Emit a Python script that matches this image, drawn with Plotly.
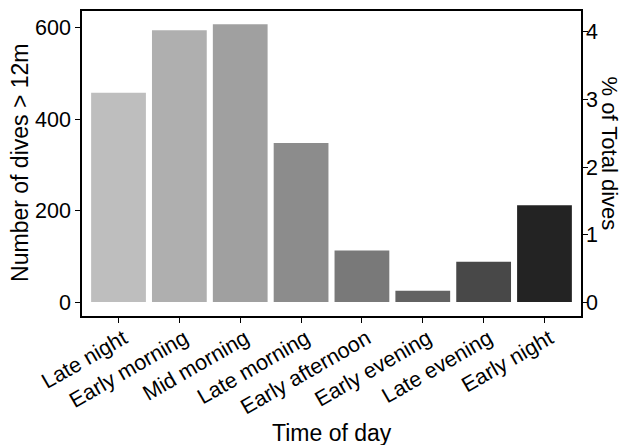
import plotly.graph_objects as go

categories = ["Late night", "Early morning", "Mid morning", "Late morning",
              "Early afternoon", "Early evening", "Late evening", "Early night"]
dives = [458, 595, 608, 348, 113, 25, 88, 212]
colors = ["#BEBEBE", "#AFAFAF", "#A0A0A0", "#8C8C8C",
          "#797979", "#626262", "#484848", "#232323"]
pct_ticks = [0, 1, 2, 3, 4]
counts_per_pct = 147.8  # counts equivalent to 1% of total dives

y_range = [-30.5, 637]
pct_range = [y_range[0] / counts_per_pct, y_range[1] / counts_per_pct]

font_family = "Liberation Sans, Arial, sans-serif"
tick_size = 21.5
title_size = 23

fig = go.Figure()
fig.add_trace(go.Bar(x=categories, y=dives, marker=dict(color=colors, line=dict(width=0)),
                     width=0.9, showlegend=False))
fig.add_trace(go.Scatter(x=categories, y=[d / counts_per_pct for d in dives], yaxis="y2",
                         mode="markers", marker=dict(opacity=0), showlegend=False,
                         hoverinfo="skip"))

axis_common = dict(ticks="outside", ticklen=5, tickcolor="black", tickwidth=1.2,
                   showline=True, linecolor="black", linewidth=1.5,
                   showgrid=False, zeroline=False, automargin=False,
                   tickfont=dict(size=tick_size, color="black", family=font_family))

fig.update_layout(
    width=624, height=445,
    margin=dict(l=82, r=43, t=11, b=129),
    plot_bgcolor="white", paper_bgcolor="white",
    font=dict(family=font_family, color="black"),
    bargap=0.1,
    xaxis=dict(range=[-0.6, 7.6], tickangle=-30, mirror=True,
               ticklabelstandoff=-5, ticklabelshift=5, **axis_common),
    yaxis=dict(range=y_range, tickvals=[0, 200, 400, 600], mirror=True, **axis_common),
    yaxis2=dict(range=pct_range, tickvals=pct_ticks, overlaying="y", side="right",
                ticklabelstandoff=-6, **axis_common),
    annotations=[
        dict(text="Time of day", xref="paper", yref="paper", x=0.5, y=-0.384,
             xanchor="center", yanchor="middle", showarrow=False,
             font=dict(size=title_size, family=font_family, color="black")),
        dict(text="Number of dives > 12m", textangle=-90, xref="paper", yref="paper",
             x=-0.1242, y=0.502, xanchor="center", yanchor="middle", showarrow=False,
             font=dict(size=title_size, family=font_family, color="black")),
        dict(text="% of Total dives", textangle=90, xref="paper", yref="paper",
             x=1.059, y=0.531, xanchor="center", yanchor="middle", showarrow=False,
             font=dict(size=22, family=font_family, color="black")),
    ],
)

fig.write_html("out.html", config={"displayModeBar": False},
               post_script="document.body.style.margin='0';")
